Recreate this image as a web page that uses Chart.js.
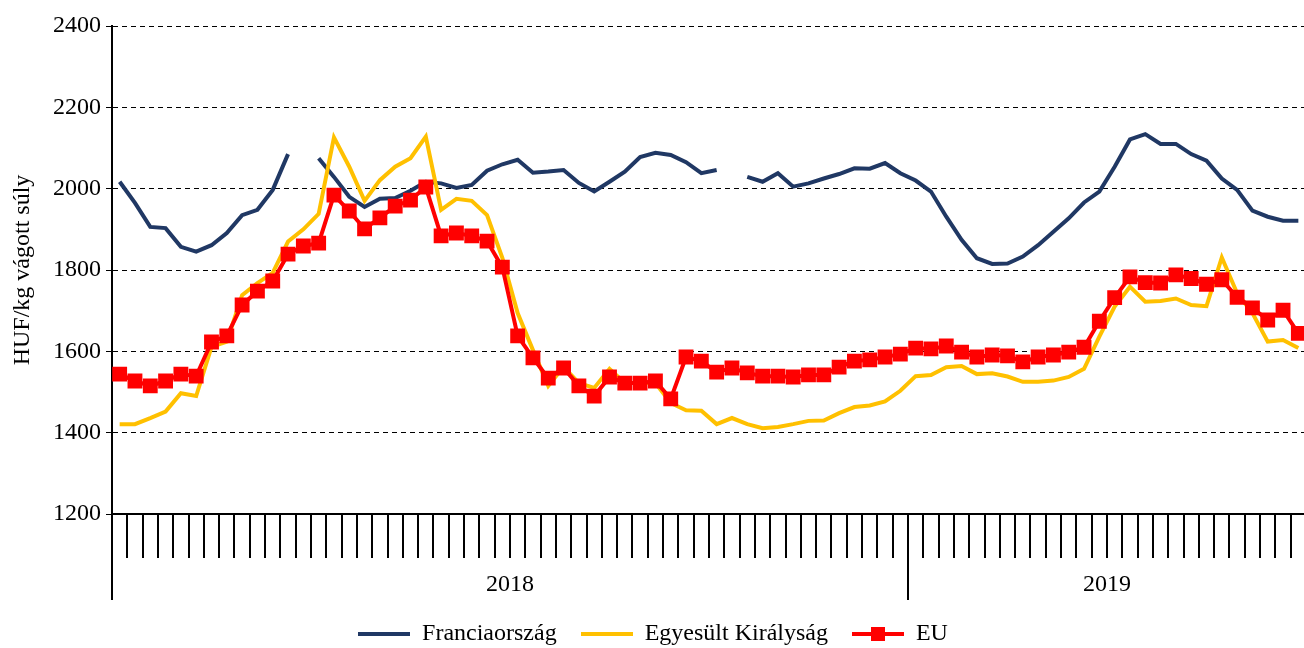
<!DOCTYPE html>
<html>
<head>
<meta charset="utf-8">
<script src="https://cdn.jsdelivr.net/npm/chart.js@4/dist/chart.umd.min.js"></script>
<style>
  html, body { margin: 0; padding: 0; background: #fff; overflow: hidden; }
  #wrap { width: 1306px; height: 648px; }
</style>
</head>
<body>
<div id="wrap"><canvas id="myChart" width="1306" height="648"></canvas></div>
<script>
// weekly prices, HUF/kg carcass weight
const years = ['2018', '2019'];
const weeksInYear = [52, 26];

const france = [
  2017, 1965, 1906, 1903, 1857, 1845, 1861, 1891, 1935, 1948, 1997, 2085, null, 2075, 2029, 1980, 1955, 1975, 1977, 1995,
  2017, 2013, 2002, 2009, 2044, 2060, 2071, 2039, 2042, 2046, 2014, 1993, 2017, 2042, 2078, 2088, 2083, 2065, 2038, 2046,
  null, 2029, 2017, 2038, 2005, 2013, 2025, 2036, 2050, 2049, 2063, 2038,
  2020, 1993, 1931, 1874, 1829, 1815, 1816, 1833, 1861, 1894, 1927, 1966, 1993, 2054, 2121, 2134, 2110, 2110, 2085, 2069,
  2025, 1997, 1946, 1931, 1921, 1921
];
const uk = [
  1421, 1421, 1436, 1452, 1497, 1490, 1611, 1624, 1738, 1768, 1793, 1870, 1900, 1938, 2126, 2054, 1970, 2021, 2054, 2075,
  2128, 1948, 1975, 1970, 1935, 1830, 1694, 1603, 1515, 1562, 1522, 1510, 1557, 1522, 1522, 1522, 1473, 1455, 1454, 1421,
  1436, 1421, 1411, 1414, 1421, 1429, 1430, 1448, 1463, 1467, 1477, 1503,
  1539, 1542, 1561, 1564, 1544, 1546, 1538, 1525, 1525, 1528, 1537, 1557, 1636, 1710, 1759, 1722, 1724, 1730, 1714, 1711,
  1831, 1743, 1694, 1624, 1628, 1608
];
const eu = [
  1544, 1527, 1515, 1527, 1544, 1539, 1623, 1638, 1714, 1748, 1773, 1839, 1859, 1866, 1984, 1945, 1901, 1928, 1957, 1972,
  2004, 1884, 1891, 1884, 1871, 1807, 1638, 1584, 1534, 1559, 1515, 1490, 1537, 1522, 1522, 1527, 1483, 1586, 1576, 1549,
  1559, 1547, 1539, 1539, 1537, 1542, 1542, 1561, 1576, 1579, 1586, 1593,
  1608, 1606, 1613, 1598, 1586, 1591, 1589, 1574, 1586, 1591, 1598, 1610, 1674, 1732, 1783, 1769, 1768, 1788, 1779, 1765,
  1776, 1733, 1707, 1677, 1701, 1644
];
const yTicks = { min: 1200, max: 2400, step: 200 };

// week labels and year boundaries
const weeks = [];
const yearBounds = [0];
const yearMids = {};
years.forEach((yr, k) => {
  const start = yearBounds[k];
  for (let w = 1; w <= weeksInYear[k]; w++) weeks.push(yr + '-' + String(w).padStart(2, '0'));
  yearBounds.push(start + weeksInYear[k]);
  yearMids[start + weeksInYear[k] / 2] = yr;
});

const fontFamily = '"Liberation Serif", "Times New Roman", serif';
const fontSize = 24;
const colors = { france: '#203864', uk: '#FFC000', eu: '#FF0000' };

function legendIcon(color, square) {
  const c = document.createElement('canvas');
  c.width = 52; c.height = 20;
  const g = c.getContext('2d');
  g.strokeStyle = color;
  g.lineWidth = 4;
  g.beginPath(); g.moveTo(0, 10); g.lineTo(52, 10); g.stroke();
  if (square) { g.fillStyle = color; g.fillRect(19, 3, 14, 14); }
  return c;
}
const icons = [legendIcon(colors.france, false), legendIcon(colors.uk, false), legendIcon(colors.eu, true)];

const ctx = document.getElementById('myChart').getContext('2d');
new Chart(ctx, {
  type: 'line',
  data: {
    labels: weeks,
    datasets: [
      { label: 'Franciaország', data: france, borderColor: colors.france, borderWidth: 4, pointRadius: 0, order: 3 },
      { label: 'Egyesült Királyság', data: uk, borderColor: colors.uk, borderWidth: 4, pointRadius: 0, order: 2 },
      { label: 'EU', data: eu, borderColor: colors.eu, borderWidth: 4, pointStyle: 'rect', pointRadius: 10.5,
        pointBackgroundColor: colors.eu, pointBorderWidth: 0, order: 1 }
    ]
  },
  options: {
    responsive: false,
    animation: false,
    layout: { autoPadding: false, padding: { top: 26, right: 0, bottom: -8, left: 0 } },
    elements: { line: { tension: 0 } },
    scales: {
      x: {
        type: 'category',
        offset: true,
        weight: 0,
        grid: { display: true, offset: true, drawOnChartArea: false, drawTicks: true, tickLength: 44, lineWidth: 2, color: '#000' },
        border: { display: true, color: '#000', width: 2 },
        ticks: { display: false, autoSkip: false }
      },
      x2: {
        type: 'linear',
        position: 'bottom',
        weight: 1,
        min: 0,
        max: weeks.length,
        offset: false,
        afterBuildTicks: s => {
          const vals = yearBounds.concat(Object.keys(yearMids).map(Number)).sort((a, b) => a - b);
          s.ticks = vals.map(v => ({ value: v }));
        },
        afterFit: s => { s.height = 40; },
        grid: {
          drawOnChartArea: false,
          tickLength: 42,
          lineWidth: 2,
          color: c => (c.tick && yearBounds.includes(c.tick.value)) ? '#000' : 'rgba(0,0,0,0)'
        },
        border: { display: false },
        ticks: {
          autoSkip: false,
          maxRotation: 0,
          mirror: true,
          padding: -41,
          color: '#000',
          font: { family: fontFamily, size: fontSize },
          callback: v => yearMids[v] || ''
        }
      },
      y: {
        min: yTicks.min,
        max: yTicks.max,
        afterFit: s => { s.width = 112; },
        ticks: {
          stepSize: yTicks.step,
          color: '#000',
          padding: 5,
          font: { family: fontFamily, size: fontSize },
          callback: v => String(v)
        },
        grid: { color: '#000', lineWidth: 1, tickLength: 6 },
        border: { display: true, color: '#000', width: 2, dash: [5, 4] },
        title: {
          display: true,
          text: 'HUF/kg vágott súly',
          color: '#000',
          padding: { top: 8, bottom: 0 },
          font: { family: fontFamily, size: fontSize }
        }
      }
    },
    plugins: {
      tooltip: { enabled: false },
      legend: {
        position: 'bottom',
        labels: {
          usePointStyle: true,
          pointStyleWidth: 52,
          padding: 24,
          color: '#000',
          font: { family: fontFamily, size: fontSize },
          generateLabels: chart => chart.data.datasets.map((ds, i) => ({
            text: ds.label,
            pointStyle: icons[i],
            fillStyle: ds.borderColor,
            strokeStyle: ds.borderColor,
            lineWidth: 0,
            fontColor: '#000',
            hidden: false,
            datasetIndex: i
          }))
        }
      }
    }
  }
});
</script>
</body>
</html>
